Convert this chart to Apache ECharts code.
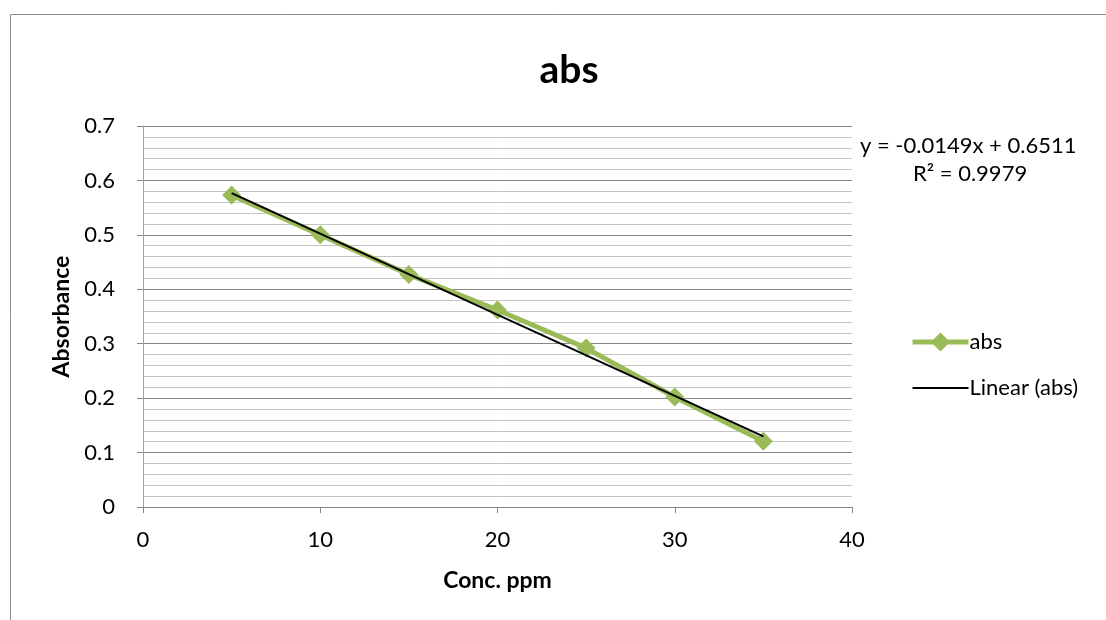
<!DOCTYPE html>
<html>
<head>
<meta charset="utf-8">
<script src="https://cdn.jsdelivr.net/npm/echarts@6/dist/echarts.min.js"></script>
<style>
  html, body { margin: 0; padding: 0; background: #fff; }
  #chart { width: 1106px; height: 620px; }
</style>
</head>
<body>
<div id="chart"></div>
<script>
// Calibration readings: concentration (ppm) vs absorbance
const concentrations = [5, 10, 15, 20, 25, 30, 35];
const absorbance = [0.573, 0.500, 0.427, 0.362, 0.292, 0.202, 0.121];

// Least-squares fit as reported on the chart
const fitSlope = -0.0149;
const fitIntercept = 0.6511;
const fitR2 = 0.9979;

const FONT = 'Lato, "Open Sans", sans-serif';
const TICK_SIZE = 22;

const pointData = concentrations.map((x, i) => [x, absorbance[i]]);
const xFirst = concentrations[0];
const xLast = concentrations[concentrations.length - 1];
const trendData = [
  [xFirst, fitSlope * xFirst + fitIntercept],
  [xLast, fitSlope * xLast + fitIntercept]
];

const chart = echarts.init(document.getElementById('chart'), null, { renderer: 'canvas' });
chart.setOption({
  animation: false,
  backgroundColor: '#ffffff',
  title: {
    text: 'abs',
    left: 564,
    top: 46,
    textAlign: 'center',
    textStyle: { fontFamily: FONT, fontSize: 39, fontWeight: 'bold', color: '#000' }
  },
  grid: { left: 143, right: 254, top: 126, bottom: 113, containLabel: false },
  legend: {
    orient: 'vertical',
    left: 905,
    top: 326,
    itemWidth: 56,
    itemHeight: 24,
    itemGap: 24,
    textStyle: { fontFamily: FONT, fontSize: TICK_SIZE, color: '#000', padding: [0, 0, 0, -4] },
    data: [
      { name: 'abs', lineStyle: { width: 5, color: '#9bbb59' } },
      { name: 'Linear (abs)', lineStyle: { width: 2, color: '#000' }, itemStyle: { opacity: 0 } }
    ]
  },
  xAxis: {
    type: 'value',
    min: 0, max: 40, interval: 10,
    name: 'Conc. ppm',
    nameLocation: 'middle',
    nameGap: 62,
    nameTextStyle: { fontFamily: FONT, fontSize: 23, fontWeight: 'bold', color: '#000' },
    axisLine: { show: true, onZero: false, lineStyle: { color: '#868686', width: 1 } },
    axisTick: { show: true, length: 6, lineStyle: { color: '#868686' } },
    axisLabel: { fontFamily: FONT, fontSize: TICK_SIZE, color: '#000', margin: 22 },
    splitLine: { show: false }
  },
  yAxis: {
    type: 'value',
    min: 0, max: 0.7, interval: 0.1,
    name: 'Absorbance',
    nameLocation: 'middle',
    nameGap: 70,
    nameTextStyle: { fontFamily: FONT, fontSize: 23, fontWeight: 'bold', color: '#000' },
    axisLine: { show: true, lineStyle: { color: '#a0a0a0', width: 1 } },
    axisTick: { show: true, length: 6, lineStyle: { color: '#868686' } },
    axisLabel: {
      fontFamily: FONT, fontSize: TICK_SIZE, color: '#000', margin: 28,
      formatter: v => (Math.round(v * 10) / 10).toString()
    },
    splitLine: { show: true, lineStyle: { color: '#868686', width: 1 } },
    minorTick: { show: false, splitNumber: 5 },
    minorSplitLine: { show: true, lineStyle: { color: '#c4c4c4', width: 1 } }
  },
  series: [
    {
      name: 'abs',
      type: 'line',
      data: pointData,
      symbol: 'diamond',
      symbolSize: 19,
      lineStyle: { color: '#9bbb59', width: 5 },
      itemStyle: { color: '#9bbb59' },
      z: 2
    },
    {
      name: 'Linear (abs)',
      type: 'line',
      data: trendData,
      symbol: 'none',
      lineStyle: { color: '#000000', width: 2 },
      itemStyle: { color: '#000000' },
      z: 3
    }
  ],
  graphic: [
    {
      type: 'rect',
      shape: { x: 10.5, y: 14.5, width: 1200, height: 700 },
      style: { fill: 'none', stroke: '#8c8c8c', lineWidth: 1 },
      silent: true, z: -1
    },
    {
      type: 'text',
      x: 860, y: 146,
      style: {
        text: 'y = ' + fitSlope.toFixed(4) + 'x + ' + fitIntercept.toFixed(4),
        font: TICK_SIZE + 'px ' + FONT, fill: '#000', verticalAlign: 'middle'
      }
    },
    {
      type: 'text',
      x: 913, y: 174,
      style: {
        text: 'R² = ' + fitR2.toFixed(4),
        font: TICK_SIZE + 'px ' + FONT, fill: '#000', verticalAlign: 'middle'
      }
    }
  ]
});
</script>
</body>
</html>
